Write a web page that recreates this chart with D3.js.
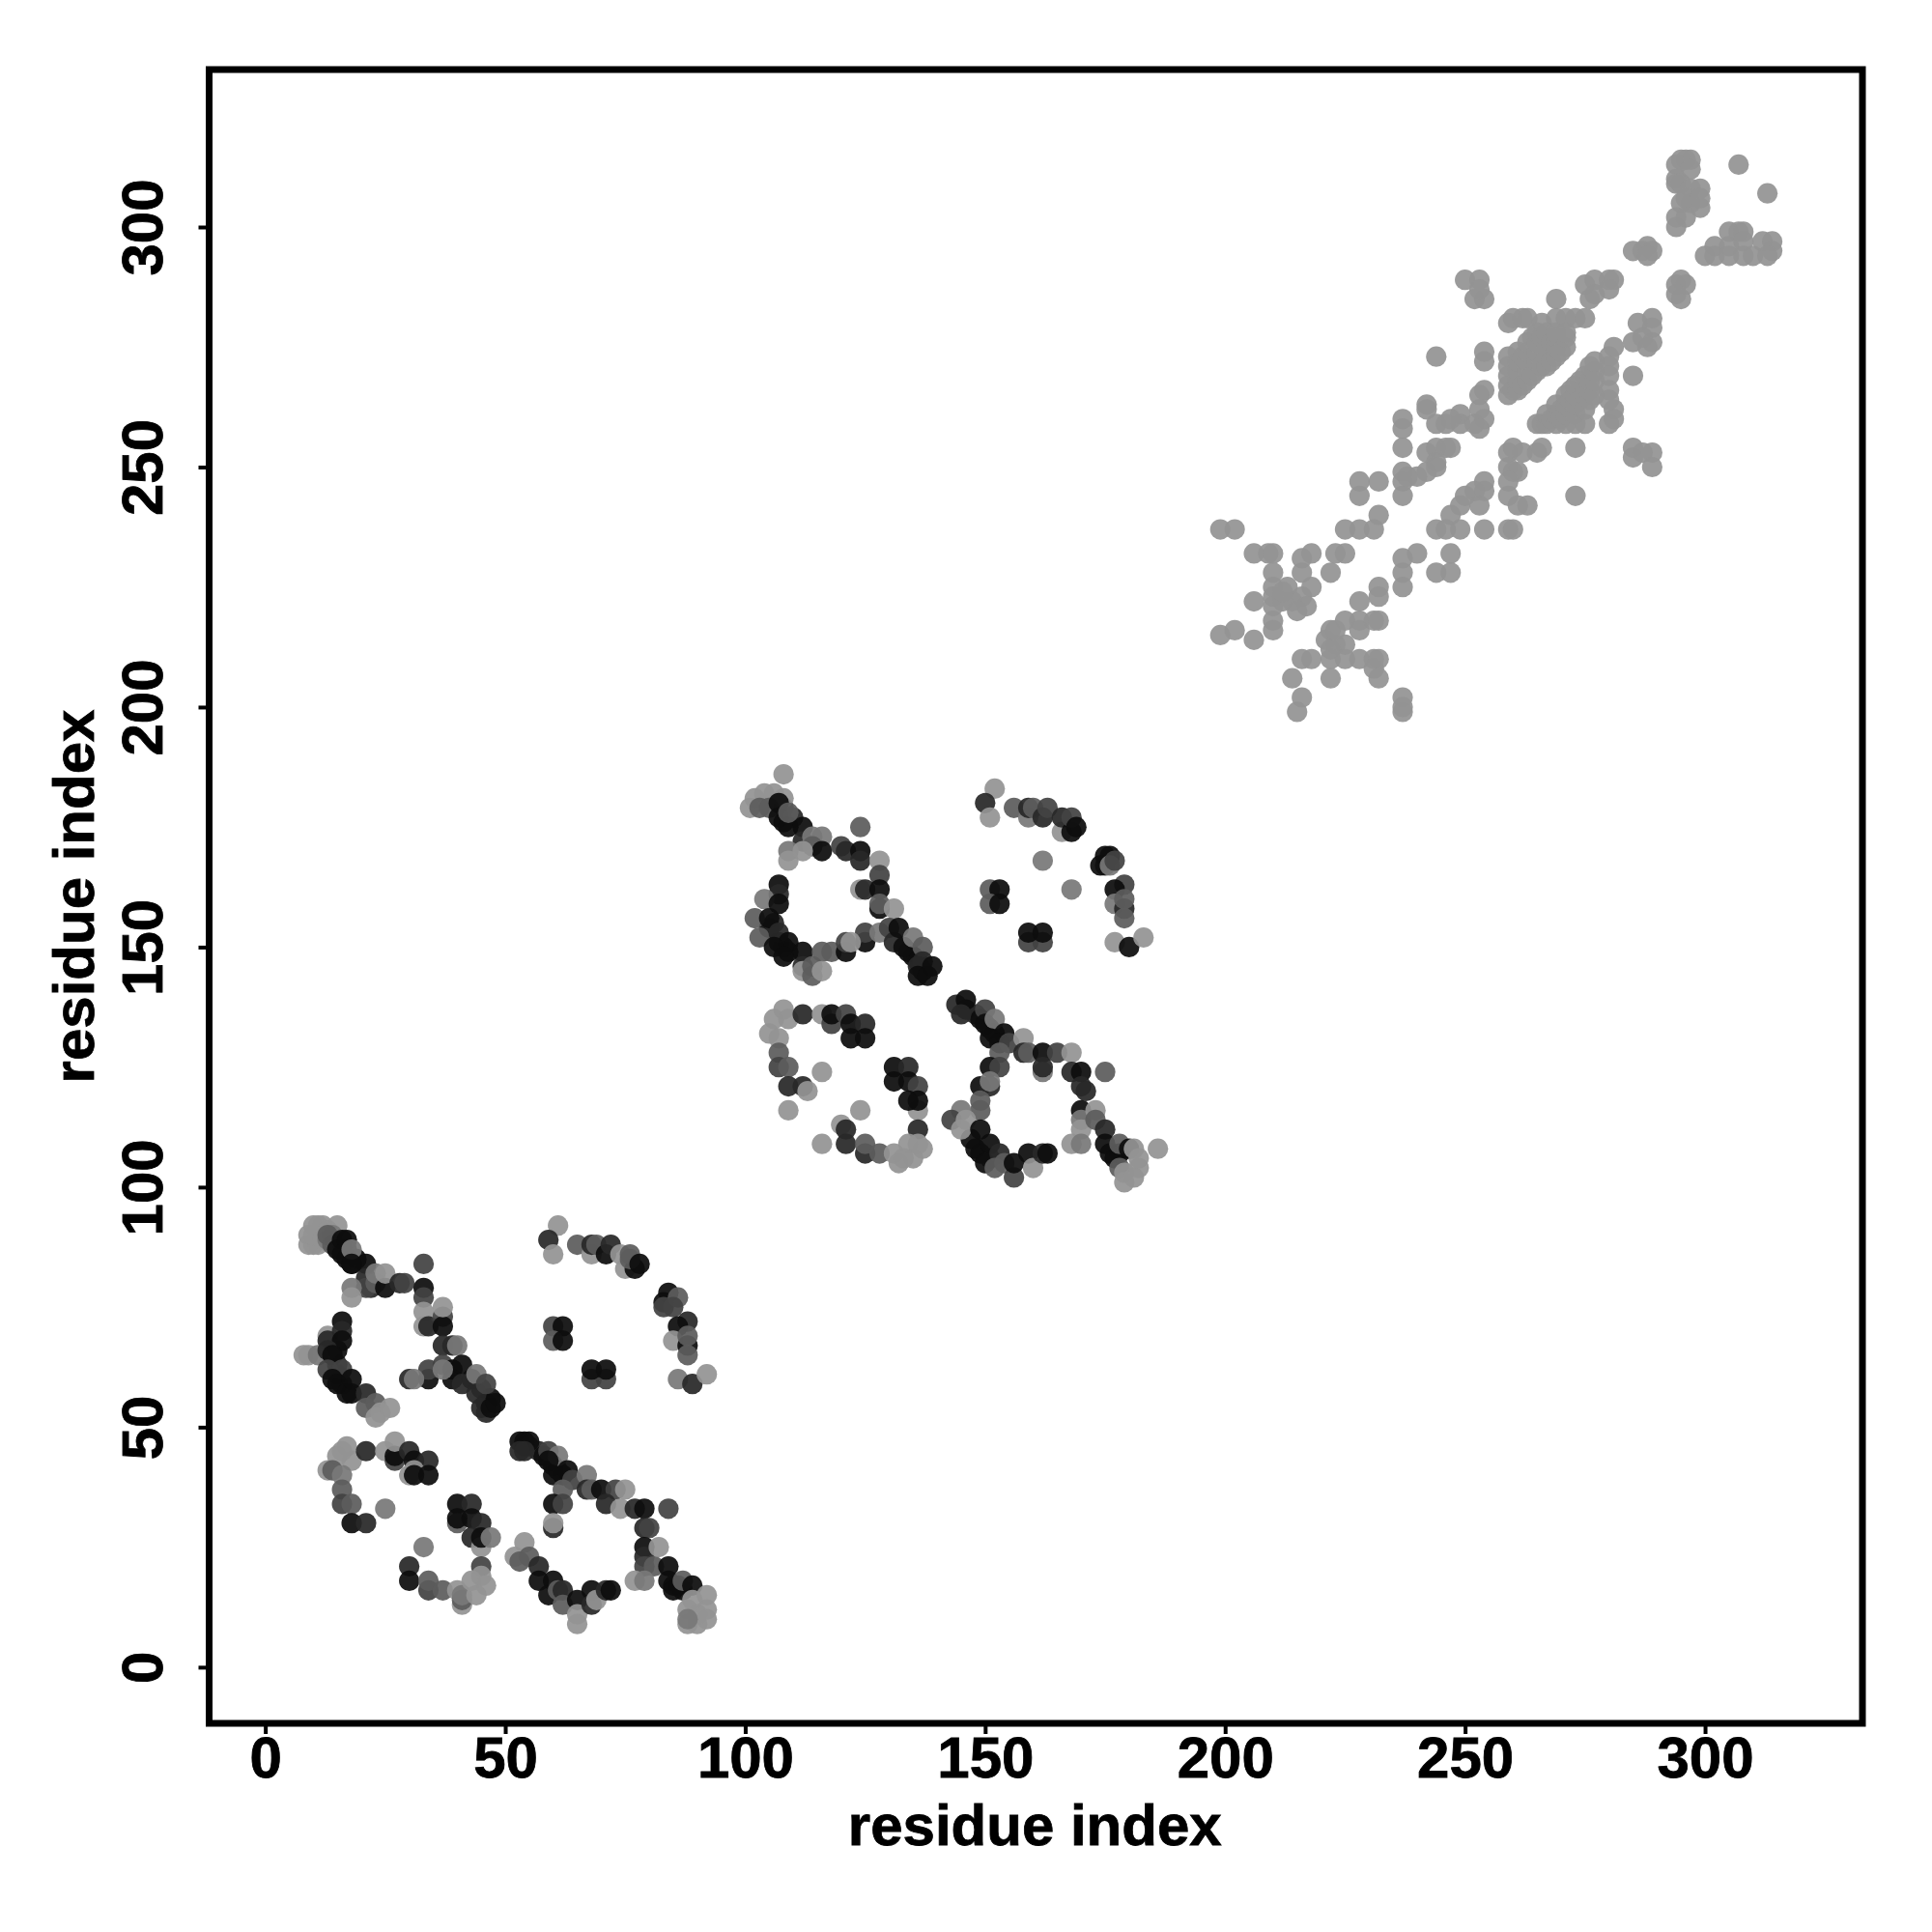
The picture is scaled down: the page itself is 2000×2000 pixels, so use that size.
<!DOCTYPE html>
<html><head><meta charset="utf-8">
<script src="https://cdn.jsdelivr.net/npm/d3@7"></script>
<style>html,body{margin:0;background:#fff}svg{display:block}text{font-family:"Liberation Sans",Arial,sans-serif;font-weight:700;fill:#000;stroke:#000;stroke-width:0.8px}</style>
</head><body><svg id="c" width="2000" height="2000"></svg>
<script>
const xTicks=[0,50,100,150,200,250,300];
const yTicks=[0,50,100,150,200,250,300];
const axisTitle="residue index";
// [residue i, residue j, score level 0 (weak) .. 5 (strong)]
const domainA=[
[54,47,5],[54,46,5],[55,46,4],[57,45,4],[58,44,5],[60,42,5],[61,41,5],[62,40,5],[85,17,5],[87,16,5],[86,17,5],[16,87,5],[17,87,5],[19,85,5],[43,60,5],[45,58,4],[46,55,5],[47,56,5],[15,61,5],[16,59,5],[15,63,4],[15,66,5],
[10,92,0],[11,92,0],[12,92,0],[13,91,0],[15,92,0],[9,90,0],[9,88,0],[10,88,0],[11,88,0],[10,90,0],[12,89,0],[13,89,1],[14,90,1],[14,88,2],[13,90,2],
[15,87,5],[16,89,5],[17,89,5],[16,86,5],[17,85,5],[18,84,5],[18,87,1],[21,84,5],[18,84,5],[21,81,4],[22,79,4],[21,79,3],[23,80,2],[23,82,1],[25,79,5],[25,82,0],[18,79,1],[18,77,0],
[28,80,4],[29,80,3],[33,79,5],[33,77,3],[33,84,3],[33,74,0],[33,71,0],[34,71,4],[37,73,3],[37,71,5],[37,75,0],[37,67,4],[39,67,4],[40,67,1],[37,63,3],[39,62,5],[39,60,5],[41,63,5],[41,59,4],[44,61,1],[44,57,4],[46,59,3],[46,53,4],[45,54,4],[47,54,5],[48,55,5],
[34,60,5],[34,62,3],[30,60,4],[31,60,1],[37,62,1],
[13,69,0],[13,68,4],[16,72,5],[16,70,4],[16,68,5],[8,65,0],[9,65,0],[11,65,1],[13,66,4],[14,65,5],[13,62,3],[16,62,3],[14,60,5],[15,59,5],[17,57,5],[18,57,5],[18,60,5],[21,57,4],[21,54,2],[23,55,2],[23,52,0],[24,53,0],[26,54,0],
[17,46,0],[15,44,0],[18,43,0],[16,45,0],[21,45,4],[13,41,0],[14,41,2],[16,40,1],[16,37,2],[16,34,3],[18,34,2],[18,30,5],[21,30,4],[25,33,1],
[25,45,0],[27,43,3],[27,44,5],[27,47,0],[30,45,4],[31,43,5],[34,43,4],[30,40,0],[31,41,0],[31,40,5],[34,40,5],
[40,34,5],[43,34,4],[40,30,2],[40,31,5],[43,31,5],[45,30,4],[43,27,4],[45,25,0],[45,27,5],[47,27,1],[33,25,1],[45,21,3],[30,21,4],[30,18,5],[34,16,3],[34,18,2],[37,16,2],[40,16,0],[41,13,0],[41,14,2],[41,15,1],[43,18,0],[45,19,0],[46,17,0],[44,15,0],
[53,47,5],[55,47,5],[53,45,4],[54,45,4],[59,45,3],[61,44,1],[59,43,5],[60,40,5],[63,41,5],[64,39,3],[67,40,1],[67,37,4],[68,37,2],[70,37,5],[73,37,3],[75,37,0],[71,34,4],[74,33,0],[77,33,4],[79,33,5],[84,33,3],[79,29,4],[80,29,3],[79,25,5],[79,23,4],[79,21,3],[82,25,0],[81,21,2],[84,21,5],[77,18,0],[79,18,1],[84,18,5],[85,16,5],[87,18,2],[89,17,5],
[88,9,0],[90,9,0],[88,12,0],[92,12,0],[92,10,0],[90,11,0],[92,15,0],[89,14,0],[88,10,1],
[62,37,2],[60,34,5],[62,34,3],[60,29,4],[60,30,0],
[52,23,0],[54,26,0],[53,22,2],[55,23,2],[57,21,4],[57,18,5],[60,18,5],[59,15,5],[61,16,2],[62,16,4],[62,13,2],[65,14,5],[65,11,0],[65,9,0],[68,16,5],[68,13,4],[69,14,0],[71,16,4],[72,16,5],
[61,92,0],[59,89,4],[60,86,0],[65,88,2],[68,86,0],[68,88,4],[69,88,2],[71,86,5],[72,88,4],[74,86,0],[75,83,0],[77,83,5],[76,85,2],[76,86,2],[78,84,5],
[84,78,5],[83,76,5],[83,75,3],[86,77,2],[85,75,3],[88,72,4],[86,71,5],[85,68,0],[88,67,5],[88,69,2],[88,65,2],[86,60,1],[89,59,4],[92,61,0],
[60,71,3],[62,71,5],[60,68,2],[62,68,5],[68,60,3],[71,60,3],[68,62,5],[71,62,5]
];
const domainB=[
[146,137,5],[148,136,4],[149,135,5],[151,133,5],[152,132,5],[109,149,5],[107,151,5],[108,150,5],[105,154,5],[106,155,4],[134,149,5],[135,148,5],[136,147,5],[137,145,5],[108,179,5],[108,176,5],[110,177,4],[176,169,5],[175,167,4],[177,106,5],[178,107,5],[147,110,5],[149,107,5],[151,106,4],
[108,186,0],[101,179,0],[102,181,0],[104,182,0],[106,182,0],[108,181,0],[103,179,2],[105,179,2],[107,180,5],[107,177,5],[109,175,5],[109,178,2],
[112,175,5],[112,172,4],[114,173,1],[116,173,1],[114,171,2],[116,170,5],[109,170,1],[109,168,0],[112,170,0],[120,171,3],[121,170,4],[124,170,5],[124,168,4],[124,175,2],[128,168,0],[128,165,3],[124,162,0],[125,162,4],[128,162,5],[128,158,5],[128,159,2],[131,158,0],
[125,151,5],[125,153,3],[128,153,1],[130,154,3],[131,151,4],[132,154,5],[133,150,5],[135,152,1],[137,150,2],[137,147,4],[136,146,4],[136,144,5],[138,144,5],[139,146,5],
[107,163,5],[107,161,4],[104,160,1],[107,159,5],[102,156,2],[105,156,5],[103,152,2],[107,153,4],[109,151,5],[106,150,5],[108,148,5],[112,149,5],[116,149,2],[118,149,2],[121,149,5],[121,151,3],[122,151,0],[112,146,4],[112,145,0],[114,144,2],[114,146,2],[116,145,0],
[108,137,0],[106,135,0],[109,135,0],[105,132,0],[107,131,0],[112,136,4],[116,136,0],[118,134,3],[118,136,5],[121,136,3],[122,134,5],[125,134,4],[122,131,5],[125,131,5],[107,128,2],[107,125,3],[109,125,2],[116,124,0],[109,121,4],[112,121,4],[113,120,0],[109,116,0],[124,116,0],
[131,125,5],[134,125,4],[131,122,5],[134,122,5],[136,116,0],[136,121,3],[134,118,5],[136,118,5],[136,112,4],[120,113,0],[121,112,4],[121,109,4],[116,109,0],[125,107,4],[125,109,2],[128,107,2],[131,107,0],[132,105,0],[134,109,0],[137,108,0],[135,106,0],[136,109,0],[133,106,0],
[144,138,4],[146,139,5],[145,136,4],[150,137,3],[150,134,5],[152,135,1],[154,132,5],[151,131,5],[153,130,5],[155,130,3],[158,131,0],[158,128,4],[159,128,2],[162,128,5],[165,128,3],[168,128,0],[162,124,1],[162,125,4],[168,124,4],[170,124,5],[175,124,2],[170,121,4],[171,120,4],
[153,128,2],[151,125,5],[153,125,3],[149,121,5],[151,121,4],[151,122,1],[170,116,5],[170,114,1],[170,112,0],[173,116,0],[173,114,2],[175,112,4],[168,109,0],[170,109,1],[175,109,5],[176,107,5],[178,109,2],[180,108,5],[181,108,0],[186,108,0],
[178,104,2],[179,101,0],[179,103,0],[181,102,0],[182,104,0],[182,106,0],
[149,118,2],[149,116,2],[145,116,1],[143,114,3],[146,114,0],[145,112,0],[149,112,5],[148,108,5],[151,109,5],[150,105,5],[153,107,4],[152,104,2],[154,105,2],[156,102,3],[156,105,5],[159,107,5],[160,104,0],[162,107,4],[163,107,5],
[152,183,0],[150,180,4],[151,177,0],[156,179,2],[159,177,1],[159,179,4],[160,179,2],[162,177,4],[163,179,3],[166,174,0],[166,177,4],[168,174,5],[168,177,3],[169,175,5],[162,168,1],
[175,169,5],[174,167,5],[176,167,1],[177,168,3],[179,163,3],[177,162,5],[177,159,1],[179,158,4],[179,160,2],[179,156,2],[177,151,0],[180,150,5],[183,152,0],
[151,162,2],[153,162,5],[151,159,2],[153,159,5],[159,151,3],[162,151,3],[159,153,5],[162,153,5],[168,162,1]
];
const domainC=[
[296,314],[297,314],[295,314],[294,313],[297,312],[294,310],[294,309],[295,309],[299,308],[297,308],[295,305],[299,304],[297,305],[296,306],[299,306],[294,302],[294,300],[296,302],[307,313],[313,307],
[300,294],[302,296],[302,294],[305,299],[305,296],[305,294],[307,299],[308,299],[308,297],[308,294],[310,294],[312,297],[314,297],[314,295],[313,294],
[285,295],[287,295],[288,296],[289,295],[288,294],[294,288],[295,289],[296,288],[294,286],[295,285],
[250,289],[253,289],[252,285],[254,285],[253,287],[275,288],[277,289],[280,289],[281,289],[276,285],[280,287],[277,286],[269,285],
[259,280],[260,281],[262,281],[263,281],[266,280],[269,281],[271,281],[273,281],[275,281],
[259,265],[259,267],[259,269],[259,271],[259,273],[260,266],[261,266],[261,268],[261,270],[261,272],[261,274],[262,267],[262,273],[263,268],[263,270],[263,272],[263,274],[263,276],[264,269],[264,277],[265,270],[265,272],[265,274],[265,276],[265,278],[266,271],[266,277],[267,271],[267,273],[267,275],[267,277],[267,278],[268,272],[268,276],[269,273],[269,275],[269,277],[269,278],[270,274],[271,275],[271,277],[271,278],
[265,259],[266,259],[267,259],[267,261],[268,260],[269,259],[269,261],[269,263],[270,262],[270,260],[271,259],[271,261],[271,263],[271,265],[272,262],[272,264],[272,266],[273,259],[273,261],[273,263],[273,265],[273,267],[274,264],[274,268],[275,259],[275,262],[275,265],[275,267],[275,269],[276,264],[276,266],[276,268],[276,271],[277,265],[277,268],[277,270],[277,272],
[281,275],[280,273],[280,271],[280,269],[280,266],[281,262],[280,259],[281,260],[280,264],[285,269],
[286,280],[289,281],[289,279],[285,276],[288,275],[289,276],[287,277],
[244,273],[254,274],[254,272],[254,266],[253,265],[253,262],[242,263],[242,262],[237,260],[237,258],[244,259],[246,259],[249,261],[249,259],[252,259],[254,260],[253,258],[247,260],
[237,254],[242,253],[244,254],[246,254],[247,254],[244,251],[242,249],[240,248],[237,249],[237,247],[237,244],[244,250],[238,248],
[228,247],[228,244],[232,247],[232,240],[231,237],[228,237],[225,237],[199,237],[202,237],
[259,253],[259,250],[260,254],[262,253],[265,253],[266,254],[273,254],[260,249],[261,249],[259,247],[259,244],[263,242],[261,242],[273,244],
[285,254],[285,252],[289,253],[287,253],[289,250],
[254,247],[254,245],[252,245],[250,244],[253,242],[249,242],[247,240],[244,237],[246,237],[249,237],[254,237],[259,237],[260,237],
[237,231],[240,232],[237,228],[237,225],[247,232],[244,228],[247,228],
[206,232],[209,232],[210,232],[210,228],[210,225],[210,223],[210,221],[210,218],[210,216],[206,222],[199,215],[202,216],[206,214],
[213,225],[216,231],[218,232],[216,228],[218,225],[222,228],[223,232],[225,232],[216,223],[214,222],[212,222],[212,224],[217,221],[215,220],
[232,225],[232,223],[228,222],[225,218],[228,218],[228,216],[231,218],[232,218],[222,216],[221,214],[223,213],[225,213],[222,212],[223,216],
[216,210],[218,210],[222,210],[225,210],[228,210],[231,210],[232,210],[231,208],[232,206],[214,206],[222,206],[216,202],[215,199],[237,202],[237,199],[237,200]
];

const svg=d3.select("#c");
const left=216.5,right=1928,top_=72,bottom=1784;
const x=d3.scaleLinear().domain([-11.7,332.8]).range([left,right]);
const y=d3.scaleLinear().domain([-11.7,332.8]).range([bottom,top_]);
const shade=d3.scaleLinear().domain([0,5]).range([147,13]);
const grey=l=>{const v=Math.round(shade(l));return `rgb(${v},${v},${v})`;};

const pts=domainA.concat(domainB,domainC.map(d=>[d[0],d[1],0]));
svg.append("g").selectAll("circle").data(pts).join("circle")
  .attr("cx",d=>x(d[0])).attr("cy",d=>y(d[1])).attr("r",10.6)
  .attr("fill",d=>grey(d[2])).attr("fill-opacity",0.93);

const fs=60;
const xAxis=svg.append("g").attr("transform",`translate(0,${bottom})`)
  .call(d3.axisBottom(x).tickValues(xTicks).tickSize(11).tickPadding(8).tickFormat(d3.format("d")));
const yAxis=svg.append("g").attr("transform",`translate(${left},0)`)
  .call(d3.axisLeft(y).tickValues(yTicks).tickSize(11).tickPadding(8).tickFormat(d3.format("d")));
[xAxis,yAxis].forEach(a=>{a.select(".domain").remove();a.selectAll("line").attr("stroke","#000").attr("stroke-width",4);a.selectAll("text").attr("font-size",fs).style("font-family",'"Liberation Sans"').style("font-weight",700);});
xAxis.selectAll("text").attr("dy",null).attr("y",null).attr("dominant-baseline","auto").attr("transform","translate(0,56)").attr("text-anchor","middle");
yAxis.selectAll("text").attr("x",null).attr("dy",null).attr("text-anchor","middle").attr("transform",function(){return "translate(-49,0) rotate(-90)";});
svg.append("rect").attr("x",left).attr("y",top_).attr("width",right-left).attr("height",bottom-top_).attr("fill","none").attr("stroke","#000").attr("stroke-width",7);
svg.append("text").attr("x",(left+right)/2-1).attr("y",1910).attr("text-anchor","middle").attr("font-size",fs).text(axisTitle);
svg.append("text").attr("transform",`translate(97,${(top_+bottom)/2}) rotate(-90)`).attr("text-anchor","middle").attr("font-size",fs).text(axisTitle);
</script></body></html>
